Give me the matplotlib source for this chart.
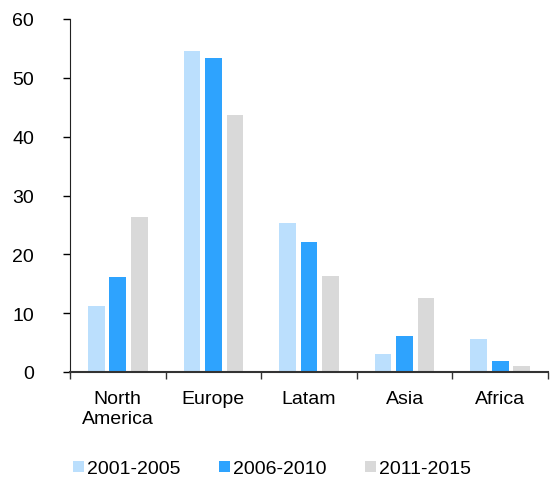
import numpy as np
import matplotlib
matplotlib.use("Agg")
import matplotlib.pyplot as plt

plt.rcParams['font.family'] = ['Liberation Sans', 'DejaVu Sans']

regions = ["North\nAmerica", "Europe", "Latam", "Asia", "Africa"]
periods = ["2001-2005", "2006-2010", "2011-2015"]
v_2001_2005 = [11.3, 54.6, 25.3, 3.1, 5.6]
v_2006_2010 = [16.1, 53.4, 22.1, 6.1, 1.8]
v_2011_2015 = [26.3, 43.6, 16.3, 12.5, 1.1]
series = [v_2001_2005, v_2006_2010, v_2011_2015]
colors = ["#BBDFFD", "#2EA3FE", "#D9D9D9"]

fig = plt.figure(figsize=(5.52, 4.81), dpi=100)
ax = fig.add_axes([70/552, 1-373/481, 478/552, 353/481])

x = np.arange(len(regions))
w = 0.175
off = 0.225
for i, (vals, c, lab) in enumerate(zip(series, colors, periods)):
    ax.bar(x + (i-1)*off, vals, w, color=c, label=lab, zorder=2)

ax.set_xlim(-0.5, len(regions)-0.5)
ax.set_ylim(0, 60)
ax.set_yticks(range(0, 61, 10))
ax.set_xticks(x)
ax.set_xticklabels(regions, linespacing=1.25)
ax.set_xticks(np.arange(-0.5, len(regions), 1), minor=True)
ax.tick_params(axis='x', which='major', length=0, labelsize=14, pad=13)
ax.tick_params(axis='x', which='minor', length=5, width=1, color='#333333')
ax.tick_params(axis='y', length=5, width=1, labelsize=14, pad=21)
for s in ['top', 'right']:
    ax.spines[s].set_visible(False)
ax.spines['left'].set_color('#222222')
ax.spines['bottom'].set_color('#333333')
ax.spines['bottom'].set_linewidth(1.5)

fig.legend(loc='center', bbox_to_anchor=(0.493, 1-470/481), ncol=3, frameon=False,
           fontsize=14, handlelength=0.55, handleheight=0.55, handletextpad=0.15,
           columnspacing=2.0, borderpad=0)

fig.savefig("out.png", dpi=100)
